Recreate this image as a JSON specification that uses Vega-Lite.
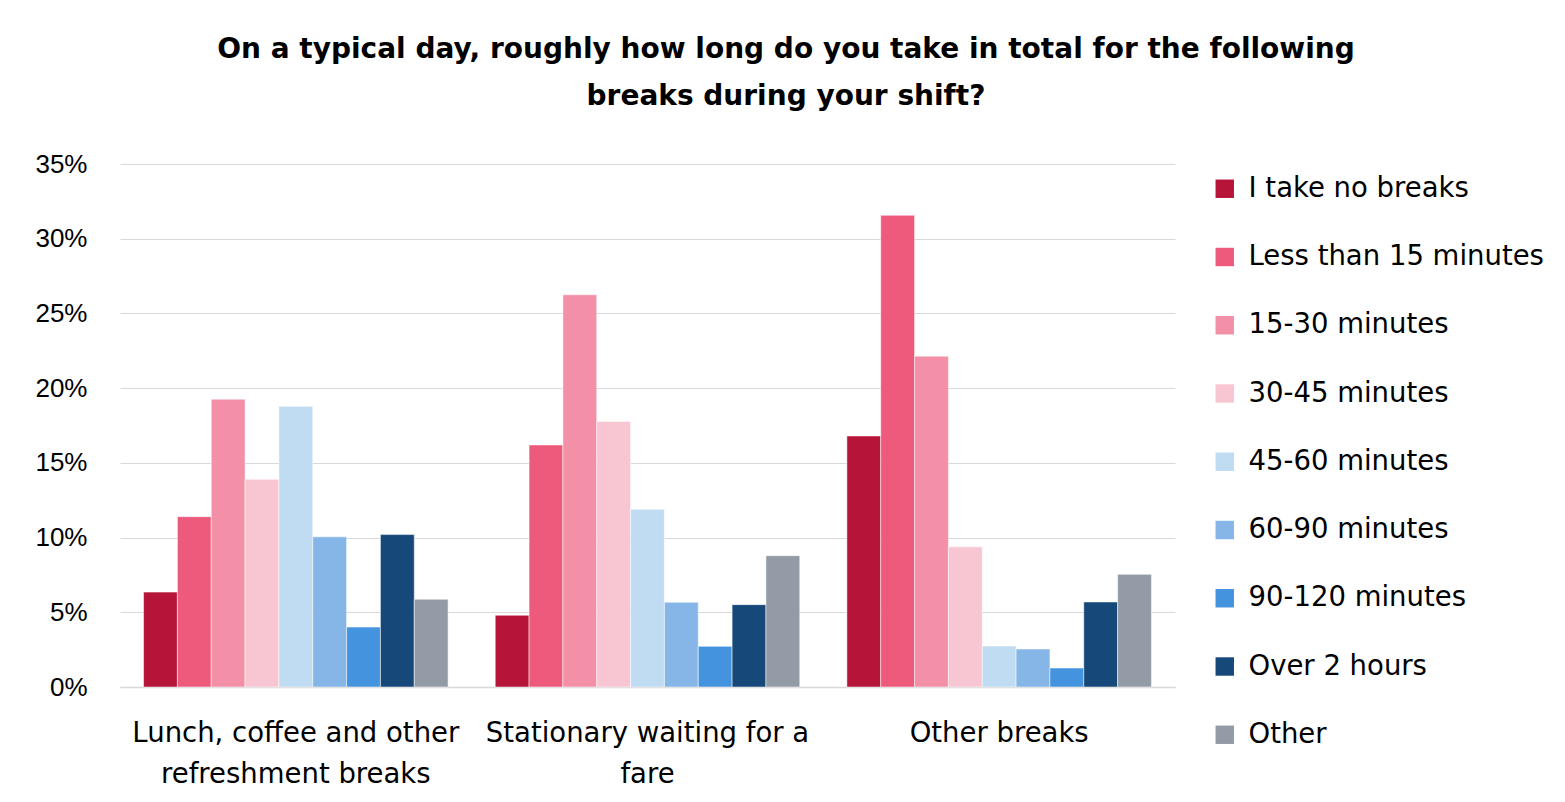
{
  "$schema": "https://vega.github.io/schema/vega-lite/v6.json",
  "width": 1055,
  "height": 523,
  "padding": {"left": 34, "top": 36, "right": 10, "bottom": 5},
  "background": "#ffffff",
  "title": {
    "text": ["On a typical day, roughly how long do you take in total for the following", "breaks during your shift?"],
    "font": "DejaVu Sans",
    "fontSize": 28,
    "fontWeight": 600,
    "color": "#000000",
    "lineHeight": 47,
    "anchor": "middle",
    "frame": "bounds",
    "offset": 40,
    "dx": -9
  },
  "data": {
    "values": [
      {"group": "Lunch, coffee and other refreshment breaks", "cat": "I take no breaks", "pct": 6.35},
      {"group": "Lunch, coffee and other refreshment breaks", "cat": "Less than 15 minutes", "pct": 11.4},
      {"group": "Lunch, coffee and other refreshment breaks", "cat": "15-30 minutes", "pct": 19.26},
      {"group": "Lunch, coffee and other refreshment breaks", "cat": "30-45 minutes", "pct": 13.9},
      {"group": "Lunch, coffee and other refreshment breaks", "cat": "45-60 minutes", "pct": 18.78},
      {"group": "Lunch, coffee and other refreshment breaks", "cat": "60-90 minutes", "pct": 10.05},
      {"group": "Lunch, coffee and other refreshment breaks", "cat": "90-120 minutes", "pct": 4.01},
      {"group": "Lunch, coffee and other refreshment breaks", "cat": "Over 2 hours", "pct": 10.2},
      {"group": "Lunch, coffee and other refreshment breaks", "cat": "Other", "pct": 5.87},
      {"group": "Stationary waiting for a fare", "cat": "I take no breaks", "pct": 4.8},
      {"group": "Stationary waiting for a fare", "cat": "Less than 15 minutes", "pct": 16.2},
      {"group": "Stationary waiting for a fare", "cat": "15-30 minutes", "pct": 26.25},
      {"group": "Stationary waiting for a fare", "cat": "30-45 minutes", "pct": 17.77},
      {"group": "Stationary waiting for a fare", "cat": "45-60 minutes", "pct": 11.89},
      {"group": "Stationary waiting for a fare", "cat": "60-90 minutes", "pct": 5.67},
      {"group": "Stationary waiting for a fare", "cat": "90-120 minutes", "pct": 2.72},
      {"group": "Stationary waiting for a fare", "cat": "Over 2 hours", "pct": 5.51},
      {"group": "Stationary waiting for a fare", "cat": "Other", "pct": 8.79},
      {"group": "Other breaks", "cat": "I take no breaks", "pct": 16.8},
      {"group": "Other breaks", "cat": "Less than 15 minutes", "pct": 31.57},
      {"group": "Other breaks", "cat": "15-30 minutes", "pct": 22.14},
      {"group": "Other breaks", "cat": "30-45 minutes", "pct": 9.38},
      {"group": "Other breaks", "cat": "45-60 minutes", "pct": 2.74},
      {"group": "Other breaks", "cat": "60-90 minutes", "pct": 2.54},
      {"group": "Other breaks", "cat": "90-120 minutes", "pct": 1.27},
      {"group": "Other breaks", "cat": "Over 2 hours", "pct": 5.69},
      {"group": "Other breaks", "cat": "Other", "pct": 7.54}
    ]
  },
  "mark": {"type": "bar", "stroke": "#ffffff", "strokeOpacity": 0.5, "strokeWidth": 1},
  "encoding": {
    "x": {
      "field": "group",
      "type": "nominal",
      "sort": null,
      "scale": {"paddingInner": 0.134, "paddingOuter": 0.067},
      "axis": {
        "title": null,
        "labelAngle": 0,
        "labelFont": "DejaVu Sans",
        "labelFontSize": 27.5,
        "labelColor": "#000000",
        "labelPadding": 46,
        "labelLineHeight": 41,
        "labelBaseline": "middle",
        "labelLimit": 500,
        "ticks": false,
        "domainColor": "#d9d9d9",
        "domainWidth": 1.5,
        "labelExpr": "datum.value == 'Lunch, coffee and other refreshment breaks' ? ['Lunch, coffee and other', 'refreshment breaks'] : datum.value == 'Stationary waiting for a fare' ? ['Stationary waiting for a', 'fare'] : datum.value"
      }
    },
    "xOffset": {
      "field": "cat",
      "type": "nominal",
      "sort": null,
      "scale": {"paddingInner": 0, "paddingOuter": 0}
    },
    "y": {
      "field": "pct",
      "type": "quantitative",
      "scale": {"domain": [0, 35], "nice": false},
      "axis": {
        "title": null,
        "values": [0, 5, 10, 15, 20, 25, 30, 35],
        "labelExpr": "datum.value + '%'",
        "labelFont": "Liberation Sans",
        "labelFontSize": 26,
        "labelColor": "#000000",
        "labelPadding": 33,
        "ticks": false,
        "domain": false,
        "gridColor": "#d9d9d9",
        "gridWidth": 1.2
      }
    },
    "color": {
      "field": "cat",
      "type": "nominal",
      "sort": null,
      "scale": {
        "domain": ["I take no breaks", "Less than 15 minutes", "15-30 minutes", "30-45 minutes", "45-60 minutes", "60-90 minutes", "90-120 minutes", "Over 2 hours", "Other"],
        "range": ["#B61439", "#EE5A7C", "#F390A8", "#F8C6D3", "#C0DCF3", "#85B6E7", "#4493DF", "#16487A", "#939CA6"]
      },
      "legend": {
        "title": null,
        "orient": "right",
        "offset": 25,
        "padding": 11,
        "symbolType": "square",
        "symbolSize": 340,
        "symbolStrokeWidth": 0,
        "labelFont": "DejaVu Sans",
        "labelFontSize": 27.5,
        "labelColor": "#000000",
        "labelOffset": 10,
        "rowPadding": 39.25,
        "labelLimit": 400
      }
    }
  },
  "config": {
    "view": {"stroke": null}
  }
}
